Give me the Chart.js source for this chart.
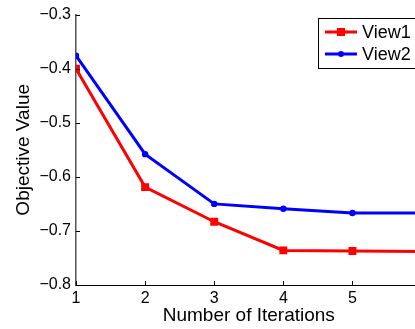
<!DOCTYPE html>
<html>
<head>
<meta charset="utf-8">
<script src="https://cdn.jsdelivr.net/npm/chart.js@4.4.1/dist/chart.umd.min.js"></script>
<style>
  html, body { margin: 0; padding: 0; background: #fff; overflow: hidden; }
  #wrap { width: 430px; height: 329px; }
</style>
</head>
<body>
<div id="wrap"><canvas id="chart" width="430" height="329"></canvas></div>
<script>
// iterations shown on the x axis (the picture is cut off just before 6)
const iterations = [1, 2, 3, 4, 5, 6];
const view1 = [-0.400, -0.619, -0.683, -0.736, -0.737, -0.738];
const view2 = [-0.376, -0.558, -0.650, -0.659, -0.667, -0.667];
const seriesNames = ["View1", "View2"];
const yTicks = [-0.8, -0.7, -0.6, -0.5, -0.4, -0.3];

const FONT = "'Liberation Sans', Arial, Helvetica, sans-serif";

function toPoints(xs, ys) {
  return xs.map((x, i) => ({ x: x, y: ys[i] }));
}

// MATLAB style ticks that point into the plot
const innerTicks = {
  id: "innerTicks",
  afterDatasetsDraw(chart) {
    const { ctx, chartArea, scales } = chart;
    ctx.save();
    ctx.strokeStyle = "#000";
    ctx.lineWidth = 1;
    ctx.beginPath();
    iterations.forEach(v => {
      const x = Math.round(scales.x.getPixelForValue(v)) + 0.5;
      ctx.moveTo(x, chartArea.bottom);
      ctx.lineTo(x, chartArea.bottom - 4);
    });
    yTicks.forEach(v => {
      const y = Math.round(scales.y.getPixelForValue(v)) + 0.5;
      ctx.moveTo(chartArea.left, y);
      ctx.lineTo(chartArea.left + 4, y);
    });
    ctx.stroke();
    ctx.restore();
  }
};

// boxed legend in the top right corner, like the original figure
const boxLegend = {
  id: "boxLegend",
  afterDraw(chart) {
    const ctx = chart.ctx;
    const left = 318.5, top = 18.5, rowH = 22;
    ctx.save();
    ctx.fillStyle = "#fff";
    ctx.strokeStyle = "#000";
    ctx.lineWidth = 1;
    ctx.fillRect(left, top, 120, 50);
    ctx.strokeRect(left, top, 120, 50);
    chart.data.datasets.forEach((ds, i) => {
      const y = 32 + i * rowH;
      ctx.strokeStyle = ds.borderColor;
      ctx.lineWidth = 3;
      ctx.beginPath();
      ctx.moveTo(325, y);
      ctx.lineTo(357, y);
      ctx.stroke();
      ctx.fillStyle = ds.borderColor;
      if (ds.pointStyle === "rect") {
        ctx.fillRect(337, y - 4, 8, 8);
      } else {
        ctx.beginPath();
        ctx.arc(341, y, 3, 0, Math.PI * 2);
        ctx.fill();
      }
      ctx.fillStyle = "#000";
      ctx.font = "18px " + FONT;
      ctx.textBaseline = "middle";
      ctx.fillText(ds.label, 362, y + 1);
    });
    ctx.restore();
  }
};

new Chart(document.getElementById("chart"), {
  type: "line",
  data: {
    datasets: [
      {
        label: seriesNames[0],
        data: toPoints(iterations, view1),
        borderColor: "#ff0000",
        backgroundColor: "#ff0000",
        borderWidth: 3,
        pointStyle: "rect",
        pointRadius: 5.6,
        pointBorderWidth: 0,
        tension: 0
      },
      {
        label: seriesNames[1],
        data: toPoints(iterations, view2),
        borderColor: "#0000ff",
        backgroundColor: "#0000ff",
        borderWidth: 3,
        pointStyle: "circle",
        pointRadius: 3.2,
        pointBorderWidth: 0,
        tension: 0
      }
    ]
  },
  options: {
    responsive: false,
    animation: false,
    layout: { padding: { left: 0, top: 14, right: 8, bottom: 0 } },
    plugins: {
      legend: { display: false },
      tooltip: { enabled: false }
    },
    scales: {
      x: {
        type: "linear",
        min: 1,
        max: 6,
        afterFit: s => { s.height = 44; },
        ticks: {
          stepSize: 1,
          color: "#000",
          padding: 4,
          font: { family: FONT, size: 16 },
          maxRotation: 0
        },
        grid: { display: false, drawTicks: false },
        border: { color: "#000", width: 1 },
        title: {
          display: true,
          text: "Number of Iterations",
          color: "#000",
          font: { family: FONT, size: 19 },
          padding: { top: 0, bottom: 2 }
        }
      },
      y: {
        min: -0.8,
        max: -0.3,
        afterFit: s => { s.width = 76; },
        afterBuildTicks: s => { s.ticks = yTicks.map(v => ({ value: v })); },
        ticks: {
          color: "#000",
          padding: 5,
          font: { family: FONT, size: 16 },
          callback: v => v.toFixed(1).replace("-", "\u2212")
        },
        grid: { display: false, drawTicks: false },
        border: { color: "#555", width: 1.5 },
        title: {
          display: true,
          text: "Objective Value",
          color: "#000",
          font: { family: FONT, size: 19 },
          padding: { top: 12, bottom: 0 }
        }
      }
    }
  },
  plugins: [innerTicks, boxLegend]
});
</script>
</body>
</html>
